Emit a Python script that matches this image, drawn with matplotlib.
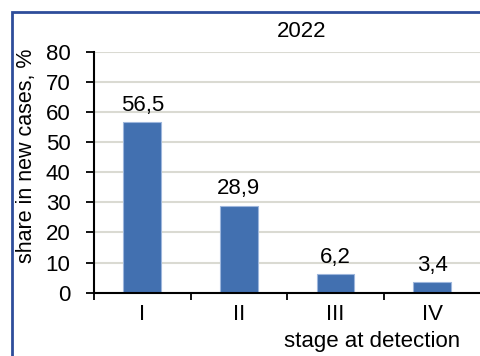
import matplotlib
matplotlib.use("Agg")
import matplotlib.pyplot as plt
from matplotlib.patches import Rectangle

categories = ["I", "II", "III", "IV"]
values = [56.5, 28.9, 6.2, 3.4]
labels = ["56,5", "28,9", "6,2", "3,4"]
yticks = [0, 10, 20, 30, 40, 50, 60, 70, 80]
title = "2022"
ylabel = "share in new cases, %"
xlabel = "stage at detection"

plt.rcParams['font.family'] = ['Liberation Sans', 'DejaVu Sans']
FS = 16

fig = plt.figure(figsize=(4.8, 3.56), dpi=100)
W, H = 480, 356

# outer blue frame (cropped on right/bottom)
fig.patches.append(Rectangle((11.5 / W, -0.1), 1.2, 1 - 12 / H + 0.1,
                             transform=fig.transFigure, fill=False,
                             edgecolor="#2E4D9A", linewidth=2.0))

ax = fig.add_axes([94 / W, 1 - 292.7 / H, (480.5 - 94) / W, (292.7 - 51.7) / H])
x = range(len(categories))
ax.bar(x, values, width=0.39, color="#4270B0", edgecolor="#9DB6DC",
       linewidth=0.8, zorder=3)
for xi, v, lab in zip(x, values, labels):
    ax.text(xi, v + 3.8, lab, ha="center", va="baseline", fontsize=FS)

ax.set_xlim(-0.5, 3.5)
ax.set_ylim(0, 80)
ax.set_yticks(yticks)
ax.set_yticklabels([str(t) for t in yticks], fontsize=FS)
ax.yaxis.grid(True, color="#DADAD2", linewidth=1.5, zorder=0)
ax.set_axisbelow(True)

ax.set_xticks([-0.5, 0.5, 1.5, 2.5, 3.5])
ax.set_xticklabels([])
ax.set_xticks(list(x), minor=True)
ax.set_xticklabels(categories, minor=True, fontsize=FS)
ax.tick_params(axis="x", which="major", length=5, width=1.3, direction="out")
ax.tick_params(axis="x", which="minor", length=0, pad=8)
ax.tick_params(axis="y", length=6, width=1.3, direction="out", pad=11)

for s in ["top", "right"]:
    ax.spines[s].set_visible(False)
for s in ["left", "bottom"]:
    ax.spines[s].set_linewidth(1.5)
    ax.spines[s].set_color("black")
    ax.spines[s].set_zorder(4)

fig.text(302 / W, 1 - 36.7 / H, title, ha="center", va="baseline", fontsize=FS)
fig.text(27 / W, 1 - 155.7 / H, ylabel, ha="center", va="center",
         rotation=90, fontsize=15.5)
fig.text(372 / W, 1 - 341 / H, xlabel, ha="center", va="center", fontsize=FS)

fig.savefig("out.png", dpi=100)
